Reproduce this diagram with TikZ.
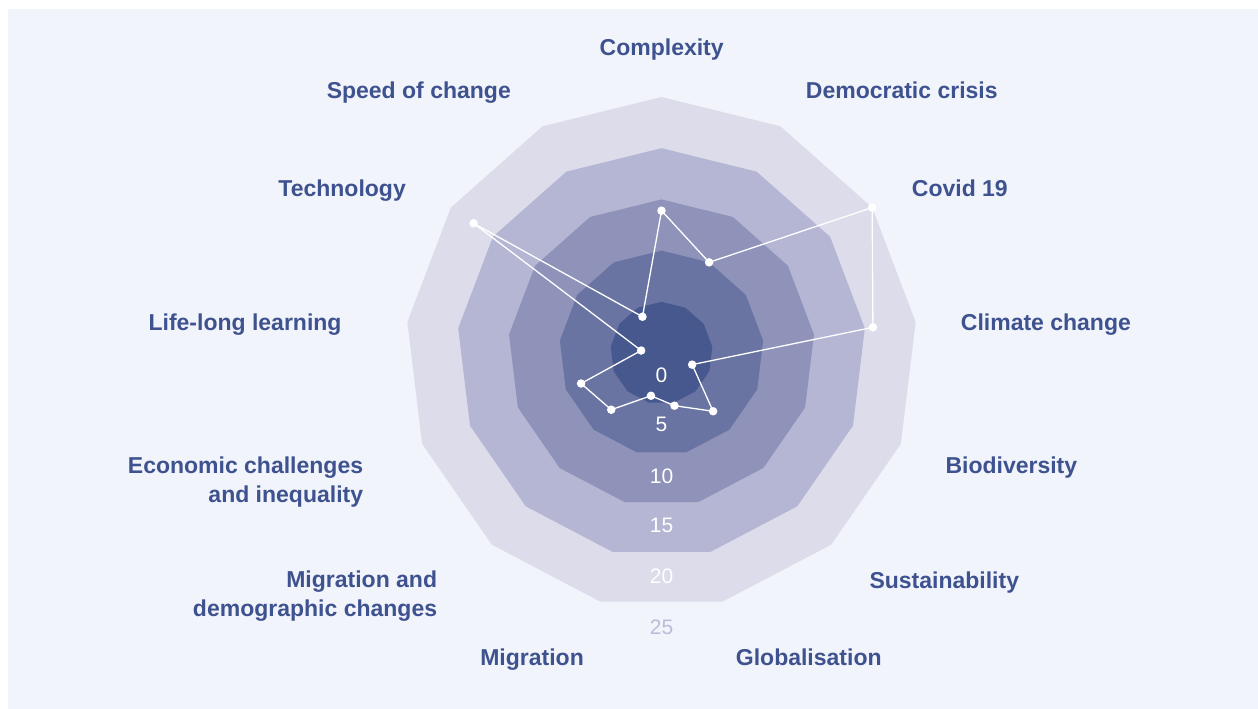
\documentclass[tikz,border=0pt]{standalone}
\usepackage{fontspec}
\setmainfont{Liberation Sans}
\definecolor{bg}{HTML}{F1F4FA}
\definecolor{ringa}{HTML}{DCDCEA}
\definecolor{ringb}{HTML}{B4B6D3}
\definecolor{ringc}{HTML}{8F93B9}
\definecolor{ringd}{HTML}{6A74A3}
\definecolor{ringe}{HTML}{46588D}
\definecolor{lab}{HTML}{3F5290}
\definecolor{faint}{HTML}{BABDD9}
\begin{document}
\begin{tikzpicture}[x=1pt,y=-1pt,
  lbl/.style={font=\fontsize{23}{28.7}\selectfont\bfseries, text=lab, inner sep=0pt},
  num/.style={font=\fontsize{21}{25}\selectfont, text=white, inner sep=0pt, anchor=base},
  dot/.style={circle, fill=white, inner sep=0pt, minimum size=8.5pt},
  dataline/.style={draw=white, line width=1.3pt, line join=round}]
\useasboundingbox (0,0) rectangle (1258,709);
\fill[white] (0,0) rectangle (1258,709);
\fill[bg] (8,9) rectangle (1258,709);
\def\cx{661.5}\def\cy{353}
\foreach \k/\c in {5/ringa,4/ringb,3/ringc,2/ringd,1/ringe}{
  \fill[\c] ({\cx}, {\cy-51.2*\k}) \foreach \i in {1,...,12}{ -- ({\cx+51.2*\k*sin(\i*360/13)}, {\cy-51.2*\k*cos(\i*360/13)}) } -- cycle;
}
\foreach \i/\v in {0/13.9,1/10,2/25,3/20.8,4/3.2,5/7.6,6/5.3,7/4.3,8/7.4,9/8.4,10/2.0,11/22.3,12/4.0}{
  \coordinate (p\i) at ({\cx+10.24*\v*sin(\i*360/13)}, {\cy-10.24*\v*cos(\i*360/13)});
}
\draw[dataline] (p0) -- (p1) -- (p2) -- (p3) -- (p4) -- (p5) -- (p6) -- (p7) -- (p8) -- (p9) -- (p10) -- (p11) -- (p12) -- cycle;
\foreach \i in {0,...,12}{ \node[dot] (d\i) at (p\i) {}; }
% scale numbers
\node[num] (n0) at (661.5,382.3) {0};
\node[num] (n5) at (661.5,431.7) {5};
\node[num] (n10) at (661.5,483.3) {10};
\node[num] (n15) at (661.5,532.3) {15};
\node[num] (n20) at (661.5,583) {20};
\node[num, text=faint] (n25) at (661.5,634.3) {25};
% axis labels
\node[lbl, anchor=base] (lcomp) at (661.7,56) {Complexity};
\node[lbl, anchor=base west] (ldem) at (805.7,98.3) {Democratic crisis};
\node[lbl, anchor=base west] (lcov) at (911.7,196.7) {Covid 19};
\node[lbl, anchor=base west] (lclim) at (960.7,330) {Climate change};
\node[lbl, anchor=base west] (lbio) at (945.3,473.3) {Biodiversity};
\node[lbl, anchor=base west] (lsus) at (869.3,588.3) {Sustainability};
\node[lbl, anchor=base west] (lglob) at (735.7,665.7) {Globalisation};
\node[lbl, anchor=base east] (lmig) at (584,665.7) {Migration};
\node[lbl, anchor=base east, align=right] (lmigd) at (437.3,616.5) {Migration and\\demographic changes};
\node[lbl, anchor=base east, align=right] (lecon) at (363.3,502.5) {Economic challenges\\and inequality};
\node[lbl, anchor=base east] (llife) at (341.7,330.7) {Life-long learning};
\node[lbl, anchor=base east] (ltech) at (406,196.7) {Technology};
\node[lbl, anchor=base east] (lspeed) at (511,98.3) {Speed of change};
\end{tikzpicture}
\end{document}
